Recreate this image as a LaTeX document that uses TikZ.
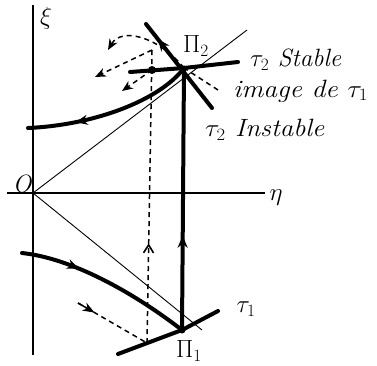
\documentclass[tikz,border=0pt]{standalone}
\usetikzlibrary{arrows.meta,decorations.markings,calc}
\begin{document}
\begin{tikzpicture}[x=1pt,y=-1pt,
  axis/.style={line width=1.1pt},
  thinline/.style={line width=0.9pt},
  heavy/.style={line width=4pt,line cap=round},
  dashline/.style={line width=1.5pt,dash pattern=on 5pt off 4pt},
  tip/.style={-{Stealth[length=11pt,width=9pt]}},
  lbl/.style={font=\itshape\fontsize{25}{27}\selectfont, inner sep=0pt},
  midarrow/.style={postaction={decorate},decoration={markings,mark=at position #1 with {\arrow{Stealth[length=12pt,width=10pt]}}}},
  midopen/.style={postaction={decorate},decoration={markings,mark=at position #1 with {\arrow[line width=1.6pt]{Straight Barb[length=8pt,width=10pt]}}}}]
\useasboundingbox (0,0) rectangle (377,365);
% coordinates
\coordinate (O) at (33,193);
\coordinate (P2) at (184,68);
\coordinate (P1) at (182,330);
\coordinate (xitop) at (33,5);
\coordinate (xibot) at (33,355);
\coordinate (etaL) at (7,193);
\coordinate (etaR) at (265,193);
\coordinate (P2e) at (247,30);
\coordinate (P1e) at (202,330);
\coordinate (S1) at (130,72);
\coordinate (S2) at (238,62);
\coordinate (U1) at (146,24);
\coordinate (U2) at (212,108);
\coordinate (C1) at (28,128);
\coordinate (B1) at (22,253);
\coordinate (T1a) at (118,354);
\coordinate (T1b) at (218,311);
\coordinate (D) at (152,70);
\coordinate (J) at (152,50);
\coordinate (DV) at (147,343);
\coordinate (I1) at (108,50);
\coordinate (I2) at (218,90);
\coordinate (A2) at (95,77);
\coordinate (A3) at (122,91);
\coordinate (L1) at (78,303);
% axes
\draw[axis] (xitop) -- (xibot);
\draw[axis] (etaL) -- (etaR);
% thin rays
\draw[thinline] (O) -- (P2e);
\draw[thinline] (O) -- (P1e);
% dashed constructions
\draw[dashline, midopen=0.34] (DV) -- (J);
\draw[dashline] (I2) -- (P2);
\draw[dashline, tip] (P2) .. controls (160,38) and (122,26) .. (I1);
\draw[dashline, tip] (J) -- (A2);
\draw[dashline, tip] (D) -- (A3);
\draw[dashline] (L1) -- (DV);
\draw[-{Stealth[length=12pt,width=9pt]}, line width=1.5pt] (L1) -- ($(L1)!0.24!(DV)$);
% heavy curves
\draw[heavy, midarrow=0.36] (P1) -- (P2);
\draw[heavy] (S1) -- (P2) -- (S2);
\draw[heavy, midarrow=0.82] (U2) -- (U1);
\draw[heavy, midarrow=0.72] (P2) .. controls (160,100) and (95,125) .. (C1);
\draw[heavy, midarrow=0.33] (B1) .. controls (70,258) and (130,290) .. (P1);
\draw[heavy] (T1a) -- (P1) -- (T1b);
\fill (D) circle (4pt);
\fill (P1) circle (3.5pt);
\fill (P2) circle (2.5pt);
% labels
\node[lbl] (lxi) at (46,18) {$\xi$};
\node[lbl] (leta) at (276,198) {$\eta$};
\node[lbl] (lO) at (22,184) {O};
\node[lbl] (lP2) at (196,46) {$\Pi_2$};
\node[lbl] (lP1) at (189,351) {$\Pi_1$};
\node[lbl] (lt1) at (246,309) {$\tau_1$};
\node[lbl, anchor=west] (lst) at (250,60) {$\tau_2$ Stable};
\node[lbl, anchor=west, xscale=1.1] (lim) at (233,91) {image de $\tau_1$};
\node[lbl, anchor=west, xscale=1.08] (lin) at (205,130) {$\tau_2$ Instable};
\end{tikzpicture}
\end{document}
